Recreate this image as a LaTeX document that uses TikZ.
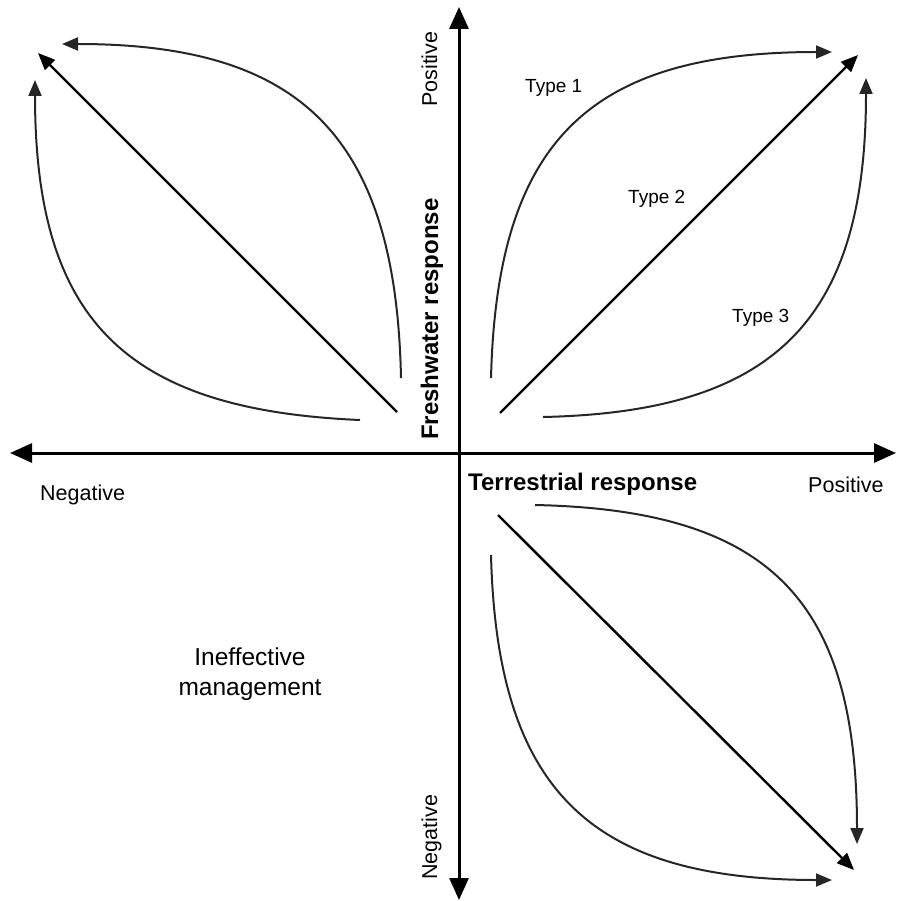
\documentclass[tikz,border=0pt]{standalone}
\usepackage{fontspec}
\setmainfont{Liberation Sans}
\usetikzlibrary{arrows.meta}
\begin{document}
\begin{tikzpicture}[x=1pt,y=-1pt,
  axis/.style={line width=3pt,{Triangle[length=22pt,width=19pt]}-{Triangle[length=22pt,width=19pt]}},
  diag/.style={line width=2.4pt,-{Triangle[length=17pt,width=14pt]}},
  curve/.style={line width=2pt,draw=black!85,-{Triangle[length=16pt,width=13pt]}},
  lbl/.style={font=\fontsize{21.5}{26}\selectfont,inner sep=0pt},
  typelbl/.style={font=\fontsize{19}{23}\selectfont,inner sep=0pt},
  bold/.style={font=\fontsize{24}{28}\selectfont\bfseries,inner sep=0pt}]
\useasboundingbox (0,0) rectangle (896,901);
% axes
\coordinate (xl) at (10,453);
\coordinate (xr) at (896,453);
\coordinate (yt) at (459,7);
\coordinate (yb) at (459,900);
\draw[axis] (xl) -- (xr);
\draw[axis] (yb) -- (yt);
% quadrant 1
\coordinate (q1d0) at (500,413);
\coordinate (q1d1) at (858,55);
\coordinate (q1a0) at (491,378);
\coordinate (q1a1) at (832,52);
\coordinate (q1b0) at (543,417);
\coordinate (q1b1) at (866,78);
\draw[diag] (q1d0) -- (q1d1);
\draw[curve] (q1a0) .. controls (497,140) and (590,52) .. (q1a1);
\draw[curve] (q1b0) .. controls (775,412) and (866,320) .. (q1b1);
% quadrant 2
\coordinate (q2d0) at (397,412);
\coordinate (q2d1) at (38,53);
\coordinate (q2a0) at (401,378);
\coordinate (q2a1) at (62,44);
\coordinate (q2b0) at (360,420);
\coordinate (q2b1) at (35,80);
\draw[diag] (q2d0) -- (q2d1);
\draw[curve] (q2a0) .. controls (396,135) and (300,44) .. (q2a1);
\draw[curve] (q2b0) .. controls (125,410) and (35,320) .. (q2b1);
% quadrant 4
\coordinate (q4d0) at (498,515);
\coordinate (q4d1) at (854,870);
\coordinate (q4a0) at (535,505);
\coordinate (q4a1) at (857,844);
\coordinate (q4b0) at (491,555);
\coordinate (q4b1) at (832,880);
\draw[diag] (q4d0) -- (q4d1);
\draw[curve] (q4a0) .. controls (770,510) and (857,600) .. (q4a1);
\draw[curve] (q4b0) .. controls (497,790) and (590,880) .. (q4b1);
% labels
\node[typelbl,anchor=base west] (t1) at (525,93) {Type 1};
\node[typelbl,anchor=base west] (t2) at (628,204) {Type 2};
\node[typelbl,anchor=base west] (t3) at (732,322) {Type 3};
\node[lbl,anchor=base west] (negx) at (40,500) {Negative};
\node[lbl,anchor=base west] (posx) at (808,492) {Positive};
\node[lbl,anchor=base west,rotate=90] (posy) at (437,107) {Positive};
\node[lbl,anchor=base west,rotate=90] (negy) at (437,880) {Negative};
\node[bold,anchor=base west] (terr) at (468,490) {Terrestrial response};
\node[bold,anchor=base west,rotate=90] (fresh) at (438,440) {Freshwater response};
\node[font=\fontsize{24.5}{30}\selectfont,align=center,inner sep=0pt,anchor=base] (ineff) at (250,695) {Ineffective\\management};
\end{tikzpicture}
\end{document}
